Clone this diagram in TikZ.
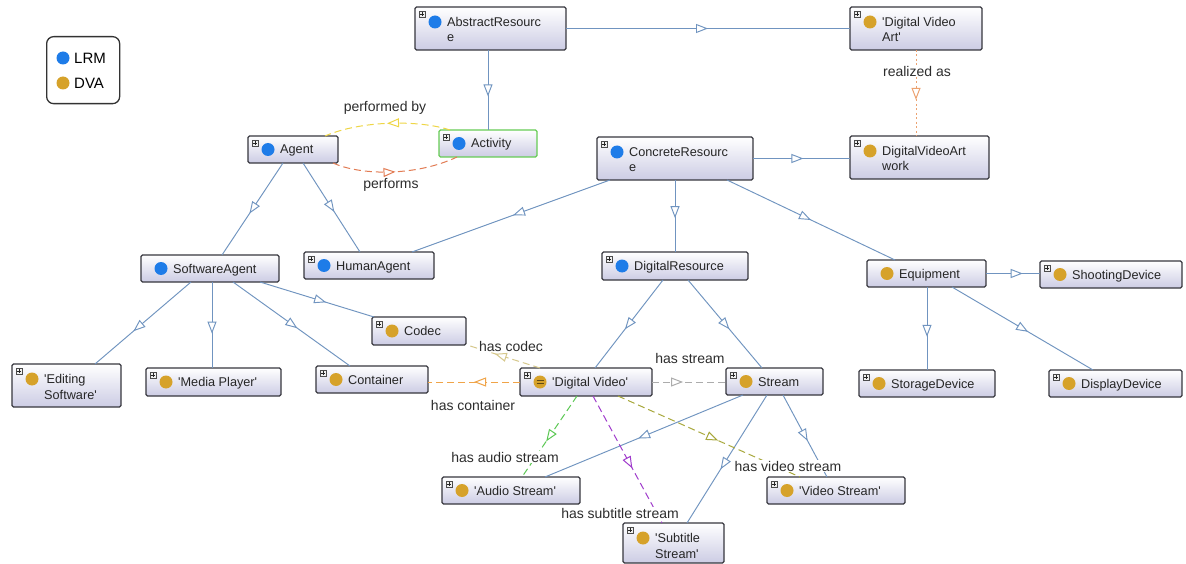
\documentclass[tikz,border=0pt]{standalone}
\usepackage{fontspec}
\setmainfont{Liberation Sans}
\usetikzlibrary{arrows.meta,decorations.markings,calc}

\definecolor{lrmblue}{RGB}{30,124,232}
\definecolor{dvagold}{RGB}{214,162,42}
\definecolor{isablue}{RGB}{112,148,192}
\definecolor{boxline}{RGB}{55,55,62}
\definecolor{boxbottom}{RGB}{204,204,228}
\definecolor{actgreen}{RGB}{102,204,85}
\definecolor{labelgray}{RGB}{45,45,45}
\definecolor{perfby}{RGB}{238,214,70}
\definecolor{perfs}{RGB}{226,124,84}
\definecolor{realas}{RGB}{236,162,112}
\definecolor{hascodec}{RGB}{214,200,140}
\definecolor{hascont}{RGB}{240,164,72}
\definecolor{hasstream}{RGB}{172,172,172}
\definecolor{hasaudio}{RGB}{92,200,84}
\definecolor{hassub}{RGB}{160,60,204}
\definecolor{hasvideo}{RGB}{168,168,60}

\newcommand\q{\textquotesingle}

\tikzset{
  cbox/.style={draw=boxline, line width=1.1pt, rounded corners=1.5pt,
    top color=white, bottom color=boxbottom, inner sep=0pt, outer sep=0pt},
  ctext/.style={inner sep=0pt, font=\fontsize{12.7}{15}\selectfont, text=black!85},
  cdot/.style={circle, inner sep=0pt, minimum size=13pt},
  midtip/.style={postaction={decorate, decoration={markings,
    mark=at position #1 with {\arrow{Triangle[fill=white, length=12pt, width=9pt]}}}}},
  isa/.style={draw=isablue, line width=0.95pt, midtip=#1},
  isa/.default=0.55,
  rel/.style={line width=1pt, dash pattern=on 7pt off 4pt, midtip=#1},
  rel/.default=0.55,
  rlabel/.style={fill=white, inner sep=1pt, text=labelgray, font=\fontsize{14}{16}\selectfont},
}

% class box: [extra style]{name}{x1}{y1}{x2}{y2}{dot colour}{line 1}{line 2}
\newcommand\onto[9][]{%
  \node[cbox, #1, anchor=north west, minimum width={(#5-#3)*1pt},
        minimum height={(#6-#4)*1pt}] (#2) at (#3,#4) {};
  \if\relax\detokenize{#9}\relax
    \node[cdot, fill=#7] (#2-dot) at ($(#2.west)+(20,0)$) {};
    \node[ctext, anchor=base west] (#2-txt) at ($(#2.west)+(32,4.5)$) {#8};
  \else
    \node[cdot, fill=#7] (#2-dot) at ($(#2.north west)+(20,15)$) {};
    \node[ctext, anchor=base west] (#2-txt) at ($(#2.north west)+(32,19.5)$) {#8};
    \node[ctext, anchor=base west] (#2-txt2) at ($(#2.north west)+(32,35)$) {#9};
  \fi}

% small expand box in the top left corner of a class box
\newcommand\plusbox[1]{%
  \draw[line width=0.5pt, draw=black!70, fill=black!6]
    ($(#1.north west)+(4,4)$) rectangle ($(#1.north west)+(10.5,10.5)$);
  \draw[line width=0.6pt, black!85]
    ($(#1.north west)+(5.2,7.25)$) -- ($(#1.north west)+(9.3,7.25)$)
    ($(#1.north west)+(7.25,5.2)$) -- ($(#1.north west)+(7.25,9.3)$);}

\begin{document}
\begin{tikzpicture}[x=1pt, y=-1pt]
\fill[white] (0,0) rectangle (1186,564);
\useasboundingbox (0,0) rectangle (1186,564);

% legend
\node[draw=black!80, line width=1.3pt, rounded corners=7pt, fill=white,
      anchor=north west, minimum width=73pt, minimum height=67pt] (legend) at (46,36) {};
\node[cdot, fill=lrmblue] (leg-lrm-dot) at (63,58) {};
\node[anchor=base west, inner sep=0pt, font=\fontsize{15}{17}\selectfont] (leg-lrm) at (74,63.5) {LRM};
\node[cdot, fill=dvagold] (leg-dva-dot) at (63,83) {};
\node[anchor=base west, inner sep=0pt, font=\fontsize{15}{17}\selectfont] (leg-dva) at (74,88.5) {DVA};

% classes
\onto{ar}{415}{7}{566}{50}{lrmblue}{AbstractResourc}{e}
\onto{dva}{850}{7}{982}{50}{dvagold}{\q Digital Video}{Art\q}
\onto[draw=actgreen]{act}{439}{130}{537}{157}{lrmblue}{Activity}{}
\onto{agent}{248}{136}{338}{163}{lrmblue}{Agent}{}
\onto{cr}{597}{137}{753}{180}{lrmblue}{ConcreteResourc}{e}
\onto{dvaw}{850}{136}{989}{179}{dvagold}{DigitalVideoArt}{work}
\onto{sa}{141}{255}{279}{282}{lrmblue}{SoftwareAgent}{}
\onto{ha}{304}{252}{434}{279}{lrmblue}{HumanAgent}{}
\onto{dr}{602}{252}{748}{280}{lrmblue}{DigitalResource}{}
\onto{eq}{867}{260}{986}{287}{dvagold}{Equipment}{}
\onto{sd}{1040}{261}{1182}{288}{dvagold}{ShootingDevice}{}
\onto{codec}{372}{317}{466}{345}{dvagold}{Codec}{}
\onto{es}{12}{364}{121}{407}{dvagold}{\q Editing}{Software\q}
\onto{mp}{146}{368}{281}{396}{dvagold}{\q Media Player\q}{}
\onto{cont}{316}{366}{428}{393}{dvagold}{Container}{}
\onto{dv}{520}{368}{652}{396}{dvagold}{\q Digital Video\q}{}
\onto{st}{726}{368}{823}{395}{dvagold}{Stream}{}
\onto{stor}{859}{370}{995}{397}{dvagold}{StorageDevice}{}
\onto{disp}{1049}{370}{1182}{397}{dvagold}{DisplayDevice}{}
\onto{as}{442}{477}{580}{504}{dvagold}{\q Audio Stream\q}{}
\onto{vs}{767}{477}{905}{504}{dvagold}{\q Video Stream\q}{}
\onto{ss}{623}{523}{724}{563}{dvagold}{\q Subtitle}{Stream\q}

% equivalence mark on the 'Digital Video' dot
\draw[line width=1.1pt, black!55!dvagold]
  ($(dv-dot)+(-3.5,-1.8)$) -- ($(dv-dot)+(3.5,-1.8)$)
  ($(dv-dot)+(-3.5,1.8)$) -- ($(dv-dot)+(3.5,1.8)$);

\foreach \n in {ar,dva,act,agent,cr,dvaw,ha,dr,sd,codec,es,mp,cont,dv,st,stor,disp,as,vs,ss}
  {\plusbox{\n}}

% subclass links
\draw[isa=0.5] (ar.east) -- (dva.west);
\draw[isa=0.58] (ar.south -| act.north) -- (act.north);
\draw[isa=0.52] (cr.east) -- (cr.east -| dvaw.west);
\draw[isa=0.49] ($(cr.south west)+(13,0)$) -- ($(ha.north west)+(108,0)$);
\draw[isa=0.53] ($(cr.south west)+(78,0)$) -- ($(dr.north west)+(73,0)$);
\draw[isa=0.5] ($(cr.south west)+(130,0)$) -- ($(eq.north west)+(28,0)$);
\draw[isa=0.55] ($(agent.south west)+(35,0)$) -- ($(sa.north west)+(81,0)$);
\draw[isa=0.55] ($(agent.south west)+(55,0)$) -- ($(ha.north west)+(56,0)$);
\draw[isa=0.6] ($(sa.south west)+(50,0)$) -- ($(es.north west)+(83,0)$);
\draw[isa=0.6] ($(sa.south west)+(71,0)$) -- ($(mp.north west)+(66,0)$);
\draw[isa=0.55] ($(sa.south west)+(92,0)$) -- ($(cont.north west)+(34,0)$);
\draw[isa=0.58] ($(sa.south east)+(-19,0)$) -- ($(codec.north west)+(2,0)$);
\draw[isa=0.56] ($(dr.south west)+(61,0)$) -- ($(dv.north west)+(75,0)$);
\draw[isa=0.56] ($(dr.south west)+(86,0)$) -- ($(st.north west)+(36,0)$);
\draw[isa=0.68] (eq.east) -- (eq.east -| sd.west);
\draw[isa=0.6] ($(eq.south west)+(60,0)$) -- ($(stor.north west)+(68,0)$);
\draw[isa=0.54] ($(eq.south west)+(85,0)$) -- ($(disp.north west)+(44,0)$);
\draw[isa=0.53] ($(st.south west)+(17,0)$) -- ($(as.north west)+(103,0)$);
\draw[isa=0.58] ($(st.south west)+(41,0)$) -- ($(ss.north west)+(64,0)$);
\draw[isa=0.56] ($(st.south west)+(57,0)$) -- ($(vs.north west)+(60,0)$);

% object properties
\draw[rel=0.58, draw=realas, dash pattern=on 2pt off 2.5pt] (dva.south) -- (dva.south |- dvaw.north);
\draw[rel=0.5, draw=perfby] ($(act.north west)+(11,0)$) .. controls (420,120) and (362,120) .. ($(agent.north east)+(-13,0)$);
\draw[rel=0.5, draw=perfs] ($(agent.south east)+(-5,0)$) .. controls (362,176) and (417,176) .. ($(act.south west)+(18,0)$);
\draw[rel=0.62, draw=hascodec] ($(dv.north west)+(20,0)$) -- ($(codec.south east)+(1,0)$);
\draw[rel=0.5, draw=hascont] (dv.west) -- (dv.west -| cont.east);
\draw[rel=0.42, draw=hasstream] (dv.east) -- (dv.east -| st.west);
\draw[rel=0.56, draw=hasaudio] ($(dv.south west)+(57,0)$) -- ($(as.north west)+(80,0)$);
\draw[rel=0.57, draw=hassub] ($(dv.south west)+(73,0)$) -- ($(ss.north west)+(39,0)$);
\draw[rel=0.55, draw=hasvideo] ($(dv.south west)+(98,0)$) -- ($(vs.north west)+(33,0)$);

% property labels
\node[rlabel] (l-real) at (917,71) {realized as};
\node[rlabel] (l-perfby) at (385,108) {performed by};
\node[rlabel] (l-perfs) at (391,185) {performs};
\node[rlabel] (l-codec) at (511,346) {has codec};
\node[rlabel] (l-cont) at (473,405) {has container};
\node[rlabel] (l-stream) at (690,358) {has stream};
\node[rlabel] (l-audio) at (505,457) {has audio stream};
\node[rlabel] (l-sub) at (620,513) {has subtitle stream};
\node[rlabel] (l-video) at (788,466) {has video stream};
\end{tikzpicture}
\end{document}
